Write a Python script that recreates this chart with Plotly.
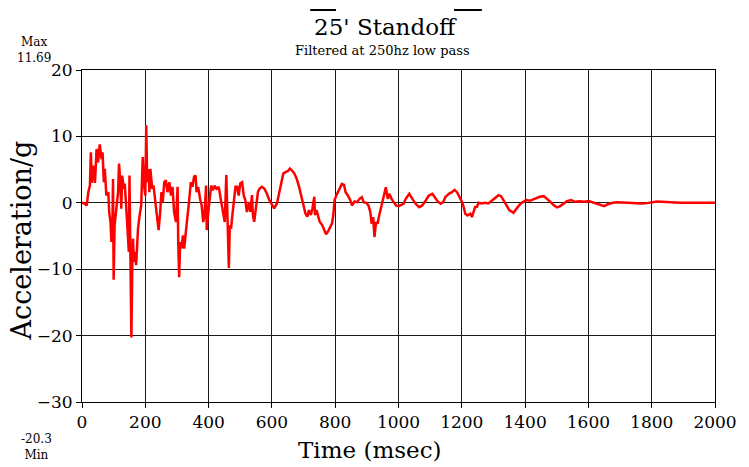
import plotly.graph_objects as go

# ---- data ----
time_ms = [0, 8, 15, 20, 25, 28, 31, 35, 41, 46, 51, 56, 62, 65, 69, 72, 77, 83, 86, 90,
           93, 96, 98, 100, 103, 109, 114, 117, 121, 124, 127, 132, 135, 140, 145, 148, 150, 153, 156, 159,
           161, 164, 168, 171, 177, 182, 187, 190, 192, 195, 200, 203, 206, 210, 213, 216, 222, 226, 232, 237,
           242, 247, 251, 255, 260, 265, 270, 276, 281, 286, 291, 297, 302, 304, 307, 310, 314, 319, 323, 328,
           333, 338, 344, 349, 354, 359, 362, 367, 373, 378, 383, 387, 392, 394, 399, 404, 408, 414, 419, 425,
           432, 440, 446, 451, 456, 461, 464, 467, 471, 475, 479, 485, 490, 495, 500, 506, 511, 516, 521, 528,
           532, 537, 540, 544, 548, 553, 556, 561, 568, 576, 584, 592, 600, 607, 616, 623, 631, 636, 644, 650,
           657, 663, 671, 678, 686, 692, 697, 702, 706, 712, 717, 723, 728, 734, 736, 741, 746, 751, 759, 765,
           771, 778, 784, 790, 794, 798, 804, 809, 814, 821, 828, 833, 840, 848, 853, 861, 869, 877, 884, 890,
           898, 905, 911, 915, 920, 924, 929, 934, 939, 945, 950, 955, 960, 966, 971, 978, 984, 992, 1000, 1007,
           1016, 1023, 1034, 1044, 1054, 1065, 1075, 1086, 1096, 1107, 1115, 1124, 1133, 1141, 1148, 1159, 1169, 1177, 1185, 1193,
           1201, 1206, 1211, 1218, 1227, 1232, 1237, 1242, 1248, 1253, 1263, 1274, 1284, 1295, 1305, 1316, 1324, 1333, 1342, 1350,
           1363, 1373, 1384, 1394, 1405, 1415, 1425, 1436, 1446, 1459, 1469, 1480, 1490, 1501, 1511, 1522, 1532, 1546, 1556, 1572,
           1587, 1601, 1613, 1624, 1640, 1650, 1660, 1676, 1692, 1708, 1723, 1739, 1754, 1770, 1786, 1802, 1817, 1833, 1854, 1875,
           1896, 1917, 1937, 1958, 1979, 2000]

accel_g = [0.0, -0.1, -0.4, 1.6, 2.6, 7.6, 3.0, 5.6, 3.0, 8.1, 6.1, 8.8, 6.6, 7.6, 3.1, 5.1, 1.1, 1.6, -1.4, -2.9,
           -5.9, -3.9, 3.6, -11.6, -3.4, -0.9, 1.6, 5.9, 3.1, -0.9, 4.1, 2.1, 2.9, -0.9, -4.4, -7.4, 4.1, -9.9, -20.3, -9.4,
           -5.4, -8.9, -7.4, -9.4, -3.9, -1.9, -0.4, 4.1, 6.9, 3.1, 1.1, 11.69, 3.1, 5.1, 1.6, 5.1, 2.1, 2.6, 0.1, -2.4,
           -4.1, -1.4, 1.6, 0.1, 3.1, 3.4, 1.6, 3.1, 1.1, 2.4, -1.4, -2.9, 2.4, -5.9, -11.2, -5.9, -6.9, -4.9, -6.9, -4.4,
           -2.4, 0.1, 3.1, 2.4, 3.9, 4.1, 1.6, 2.4, 0.6, -0.4, -2.9, -1.9, 2.6, -4.1, -1.4, 0.6, 2.6, 1.9, 2.6, 2.1,
           2.4, 0.1, -1.9, -2.9, 4.2, -4.4, -9.8, -3.4, -3.9, -1.9, 0.1, 2.4, 2.4, 1.1, 2.9, 3.1, 1.1, 0.4, -1.4, 0.1,
           -1.35, 1.15, -1.85, -2.85, -1.35, 0.15, 1.65, 2.15, 2.4, 2.15, 1.4, 0.4, -0.35, -0.85, -0.1, 1.65, 3.4, 4.4, 4.65, 4.75,
           5.15, 4.9, 4.4, 3.65, 2.4, 1.15, 0.15, -0.85, -1.6, -2.1, -1.1, -1.85, -0.85, 0.9, -1.85, -1.1, -2.1, -2.85, -3.35, -4.1,
           -4.75, -4.25, -3.75, -3.1, -1.85, 0.4, 1.15, 1.65, 2.4, 2.85, 2.7, 1.6, 1.1, 0.35, -0.4, 0.2, 0.1, 0.6, 0.85, 0.1,
           0.0, -0.4, -1.4, -3.15, -2.15, -5.15, -2.9, -3.15, -1.9, -0.65, 0.1, 1.6, 2.35, 0.6, 1.35, 0.6, 0.1, -0.4, -0.5, -0.3,
           -0.15, 0.6, 1.35, 0.6, -0.15, -0.65, -0.4, 0.35, 1.1, 1.35, 0.85, 0.2, -0.15, 0.1, 0.85, 1.35, 1.6, 1.95, 1.6, 0.85,
           0.1, -0.65, -1.65, -1.9, -1.65, -2.15, -1.4, -0.65, -0.6, 0.0, -0.1, 0.0, -0.1, 0.3, 0.65, 1.15, 1.0, 0.3, -0.5, -1.1,
           -1.5, -0.85, -0.2, 0.15, 0.4, 0.3, 0.5, 0.65, 0.9, 1.0, 0.65, 0.15, -0.35, -0.7, -0.5, -0.1, 0.25, 0.4, 0.15, 0.25,
           0.15, 0.25, 0.05, -0.15, -0.4, -0.5, -0.25, 0.0, 0.1, 0.05, 0.1, 0.0, 0.0, -0.1, -0.05, 0.1, 0.2, 0.15, 0.05, 0.05,
           0.0, 0.0, -0.05, 0.0, 0.0, 0.0]

x_ticks = [0, 200, 400, 600, 800, 1000, 1200, 1400, 1600, 1800, 2000]
y_ticks = [-30, -20, -10, 0, 10, 20]

title_text = "25' Standoff"
subtitle_text = "Filtered at 250hz low pass"
x_title = "Time (msec)"
y_title = "Acceleration/g"
max_label = "11.69"
min_label = "-20.3"

FONT = "DejaVu Serif"

# ---- pixel layout helpers ----
W, H = 749, 467
L, R, T, B = 82, 29, 70, 65
PW, PH = W - L - R, H - T - B


def px(x):
    return (x - L) / PW


def py(y):
    return (H - B - y) / PH


fig = go.Figure()
fig.add_trace(go.Scatter(x=time_ms, y=accel_g, mode="lines",
                         line=dict(color="#ff0000", width=2.5), showlegend=False,
                         hoverinfo="skip"))

axis_common = dict(showgrid=True, gridcolor="#1a1a1a", gridwidth=1,
                   showline=True, linecolor="black", linewidth=1, mirror=True,
                   ticks="outside", ticklen=5, tickcolor="black", zeroline=False,
                   tickfont=dict(family=FONT, size=17, color="black"))

fig.update_xaxes(range=[0, 2000], tickvals=x_ticks, **axis_common)
fig.update_yaxes(range=[-30, 20], tickvals=y_ticks, **axis_common)

ann = []


def add_text(text, x, y, size, angle=0):
    ann.append(dict(text=text, x=px(x), y=py(y), xref="paper", yref="paper",
                    showarrow=False, xanchor="center", yanchor="middle",
                    textangle=angle, font=dict(family=FONT, size=size, color="black")))


add_text(title_text, 388, 27, 23)
add_text(subtitle_text, 385, 51, 13)
add_text(x_title, 372, 450, 23)
add_text(y_title, 22, 240, 27, -90)
add_text("Max<br>" + max_label, 34, 50, 12)
add_text(min_label + "<br>Min", 36, 447, 12)

shapes = []
for x0, x1 in [(312, 338), (457, 485)]:
    shapes.append(dict(type="line", xref="paper", yref="paper",
                       x0=px(x0), x1=px(x1), y0=py(10), y1=py(10),
                       line=dict(color="black", width=2)))

fig.update_layout(width=W, height=H, margin=dict(l=L, r=R, t=T, b=B, pad=0),
                  paper_bgcolor="white", plot_bgcolor="white",
                  annotations=ann, shapes=shapes,
                  font=dict(family=FONT, color="black"))

fig.write_html("out.html")
